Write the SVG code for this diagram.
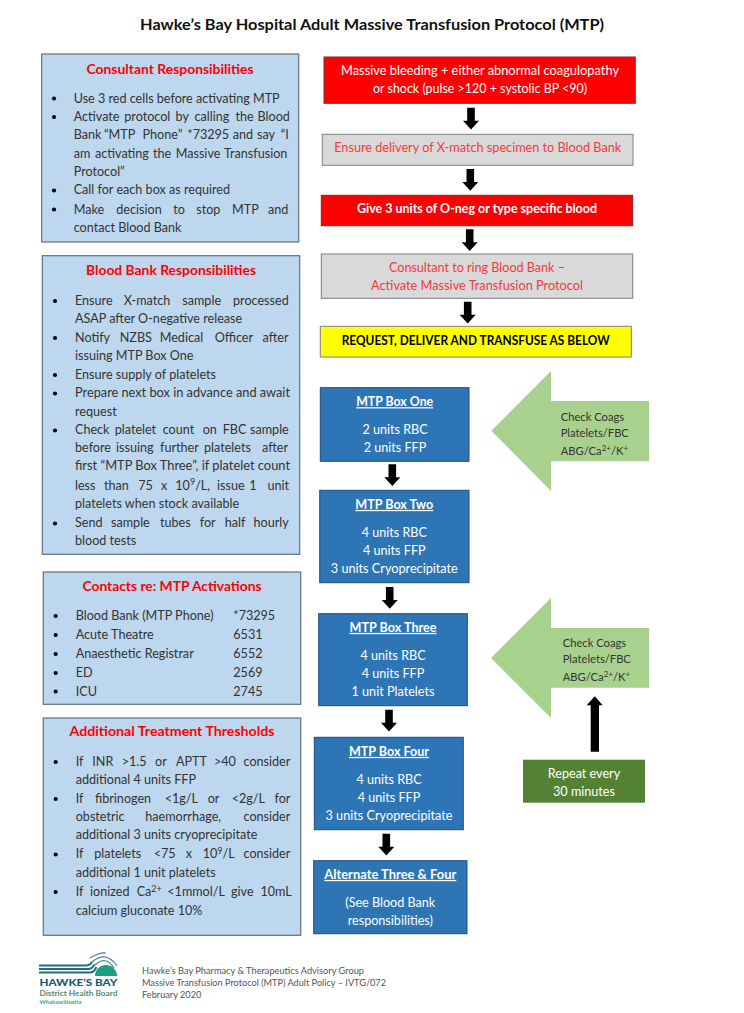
<svg xmlns="http://www.w3.org/2000/svg" width="744" height="1013" viewBox="0 0 744 1013">
<style>
text{font-family:"Lato","Carlito","Open Sans","Liberation Sans",sans-serif;font-size:12.6px;fill:#333}
.panel{fill:#BDD7EE;stroke:#5f7080;stroke-width:1.2}
.ph{font-weight:700;font-size:13.4px;fill:#f00;text-anchor:middle}
.red{fill:#f00;stroke:#7f2a2a;stroke-width:1}
.grey{fill:#D9D9D9;stroke:#7f7f7f;stroke-width:1}
.yel{fill:#ff0;stroke:#7f7f7f;stroke-width:1}
.blue{fill:#2E75B6;stroke:#1f4e79;stroke-width:1}
.c{text-anchor:middle}
.w{fill:#fff}
.rt{fill:#f23b3b}
.bh{fill:#fff;font-weight:700;text-anchor:middle;text-decoration:underline}
.g{fill:#A9D18E}
.s{font-size:9px}
.k{font-size:11.2px}
.k .s{font-size:8px}
.f{font-size:9.2px;fill:#555}
.b{fill:#000}
</style>
<defs>
<path id="dn" class="b" d="M-3.8 0H3.8V13H8L0 21.7L-8 13H-3.8Z"/>
</defs>
<text x="372" y="30" class="c" style="font-weight:700;font-size:15.6px;fill:#111" textLength="464" lengthAdjust="spacingAndGlyphs">Hawke’s Bay Hospital Adult Massive Transfusion Protocol (MTP)</text>

<g id="consultant">
<rect class="panel" x="41.7" y="54" width="257" height="188"/>
<text class="ph" x="170" y="73.6" textLength="167" lengthAdjust="spacingAndGlyphs">Consultant Responsibilities</text>
<g class="b"><circle cx="54" cy="98.5" r="2.1"/><circle cx="54" cy="117" r="2.1"/><circle cx="54" cy="190.5" r="2.1"/><circle cx="54" cy="209.5" r="2.1"/></g>
<text x="73.7" y="102.7" textLength="206" lengthAdjust="spacingAndGlyphs">Use 3 red cells before activating MTP</text>
<text y="121.3"><tspan x="73.7">Activate</tspan><tspan x="124.3">protocol</tspan><tspan x="175.5">by</tspan><tspan x="194.5">calling</tspan><tspan x="235.5">the</tspan><tspan x="257.5">Blood</tspan></text>
<text y="139.3"><tspan x="73.7">Bank</tspan><tspan x="104">“MTP</tspan><tspan x="142.5">Phone”</tspan><tspan x="187.3">*73295</tspan><tspan x="232.7">and</tspan><tspan x="257">say</tspan><tspan x="280.7">“I</tspan></text>
<text y="157.7"><tspan x="73.7">am</tspan><tspan x="95">activating</tspan><tspan x="153">the</tspan><tspan x="175.7">Massive</tspan><tspan x="224">Transfusion</tspan></text>
<text x="73.7" y="175.7">Protocol”</text>
<text x="73.7" y="194.3">Call for each box as required</text>
<text y="213.7"><tspan x="73.7">Make</tspan><tspan x="116.3">decision</tspan><tspan x="173.3">to</tspan><tspan x="196.3">stop</tspan><tspan x="232">MTP</tspan><tspan x="268">and</tspan></text>
<text x="73.7" y="231.7">contact Blood Bank</text>
</g>

<g id="bloodbank">
<rect class="panel" x="42.3" y="255.7" width="257.4" height="298.6"/>
<text class="ph" x="171" y="275.3" textLength="170" lengthAdjust="spacingAndGlyphs">Blood Bank Responsibilities</text>
<g class="b"><circle cx="55" cy="301" r="2.1"/><circle cx="55" cy="338" r="2.1"/><circle cx="55" cy="375" r="2.1"/><circle cx="55" cy="393.5" r="2.1"/><circle cx="55" cy="430.5" r="2.1"/><circle cx="55" cy="523.5" r="2.1"/></g>
<text y="305"><tspan x="75">Ensure</tspan><tspan x="123.7">X-match</tspan><tspan x="182.3">sample</tspan><tspan x="233">processed</tspan></text>
<text x="75" y="322.7">ASAP after O-negative release</text>
<text y="341.7"><tspan x="75">Notify</tspan><tspan x="119.7">NZBS</tspan><tspan x="159.7">Medical</tspan><tspan x="214.7">Officer</tspan><tspan x="262.5">after</tspan></text>
<text x="75" y="359.7">issuing MTP Box One</text>
<text x="75" y="378.7">Ensure supply of platelets</text>
<text x="75" y="397.3" textLength="215" lengthAdjust="spacingAndGlyphs">Prepare next box in advance and await</text>
<text x="75" y="415.7">request</text>
<text y="434.3"><tspan x="75">Check</tspan><tspan x="114.7">platelet</tspan><tspan x="162.7">count</tspan><tspan x="202.7">on</tspan><tspan x="222.7">FBC</tspan><tspan x="250">sample</tspan></text>
<text y="452.3"><tspan x="75">before</tspan><tspan x="116">issuing</tspan><tspan x="160">further</tspan><tspan x="204">platelets</tspan><tspan x="262">after</tspan></text>
<text x="75" y="470.3" textLength="215" lengthAdjust="spacingAndGlyphs">first “MTP Box Three”, if platelet count</text>
<text y="489.7"><tspan x="75">less</tspan><tspan x="104">than</tspan><tspan x="138.3">75</tspan><tspan x="161">x</tspan><tspan x="175.3">10</tspan><tspan class="s" dy="-4.5">9</tspan><tspan dy="4.5">/L,</tspan><tspan x="217">issue</tspan><tspan x="249.3">1</tspan><tspan x="267.5">unit</tspan></text>
<text x="75" y="508.3">platelets when stock available</text>
<text y="527.3"><tspan x="75">Send</tspan><tspan x="111">sample</tspan><tspan x="160">tubes</tspan><tspan x="199.7">for</tspan><tspan x="224.7">half</tspan><tspan x="253.5">hourly</tspan></text>
<text x="75" y="545.3">blood tests</text>
</g>

<g id="contacts">
<rect class="panel" x="43.3" y="572" width="257.4" height="132.3"/>
<text class="ph" x="172" y="591.3" textLength="179" lengthAdjust="spacingAndGlyphs">Contacts re: MTP Activations</text>
<g class="b"><circle cx="55.7" cy="616" r="2.1"/><circle cx="55.7" cy="635" r="2.1"/><circle cx="55.7" cy="654" r="2.1"/><circle cx="55.7" cy="673" r="2.1"/><circle cx="55.7" cy="691.5" r="2.1"/></g>
<text x="75.7" y="620">Blood Bank (MTP Phone)</text><text x="233.3" y="620">*73295</text>
<text x="75.7" y="639">Acute Theatre</text><text x="233.3" y="639">6531</text>
<text x="75.7" y="658">Anaesthetic Registrar</text><text x="233.3" y="658">6552</text>
<text x="75.7" y="676.7">ED</text><text x="233.3" y="676.7">2569</text>
<text x="75.7" y="695.7">ICU</text><text x="233.3" y="695.7">2745</text>
</g>

<g id="thresholds">
<rect class="panel" x="43.3" y="718" width="257.4" height="217.3"/>
<text class="ph" x="172" y="736.4" textLength="205" lengthAdjust="spacingAndGlyphs">Additional Treatment Thresholds</text>
<g class="b"><circle cx="55.7" cy="762" r="2.1"/><circle cx="55.7" cy="799" r="2.1"/><circle cx="55.7" cy="854.5" r="2.1"/><circle cx="55.7" cy="892" r="2.1"/></g>
<text y="766"><tspan x="75.7">If</tspan><tspan x="92.3">INR</tspan><tspan x="121.7">&gt;1.5</tspan><tspan x="155">or</tspan><tspan x="176">APTT</tspan><tspan x="214">&gt;40</tspan><tspan x="243.5">consider</tspan></text>
<text x="75.7" y="784.3">additional 4 units FFP</text>
<text y="803.3"><tspan x="75.7">If</tspan><tspan x="95">fibrinogen</tspan><tspan x="164.7">&lt;1g/L</tspan><tspan x="207.7">or</tspan><tspan x="231.7">&lt;2g/L</tspan><tspan x="274.5">for</tspan></text>
<text y="821"><tspan x="75.7">obstetric</tspan><tspan x="145.3">haemorrhage,</tspan><tspan x="243.5">consider</tspan></text>
<text x="75.7" y="839">additional 3 units cryoprecipitate</text>
<text y="858.3"><tspan x="75.7">If</tspan><tspan x="94.3">platelets</tspan><tspan x="153.7">&lt;75</tspan><tspan x="185.7">x</tspan><tspan x="202.7">10</tspan><tspan class="s" dy="-4.5">9</tspan><tspan dy="4.5">/L</tspan><tspan x="243.5">consider</tspan></text>
<text x="75.7" y="877">additional 1 unit platelets</text>
<text y="896.3"><tspan x="75.7">If</tspan><tspan x="90">ionized</tspan><tspan x="136.7">Ca</tspan><tspan class="s" dy="-4.5">2+</tspan><tspan x="167.3" dy="4.5">&lt;1mmol/L</tspan><tspan x="231">give</tspan><tspan x="260.5">10mL</tspan></text>
<text x="75.7" y="914.7">calcium gluconate 10%</text>
</g>

<g id="massive-bleeding">
<rect class="red" x="324" y="57" width="311.3" height="46.3"/>
<text class="c w" x="480" y="75" textLength="278" lengthAdjust="spacingAndGlyphs">Massive bleeding + either abnormal coagulopathy</text>
<text class="c w" x="480" y="92.7" textLength="214" lengthAdjust="spacingAndGlyphs">or shock (pulse &gt;120 + systolic BP &lt;90)</text>
</g>
<g id="xmatch">
<rect class="grey" x="322.3" y="134.3" width="310.7" height="31"/>
<text class="c rt" x="477.7" y="152.3" textLength="287" lengthAdjust="spacingAndGlyphs">Ensure delivery of X-match specimen to Blood Bank</text>
</g>
<g id="give-units">
<rect class="red" x="321.3" y="195.3" width="311.4" height="30.4"/>
<text class="c w" x="477" y="213.3" style="font-weight:700" textLength="240" lengthAdjust="spacingAndGlyphs">Give 3 units of O-neg or type specific blood</text>
</g>
<g id="ring-blood-bank">
<rect class="grey" x="321.3" y="254" width="311.4" height="44.3"/>
<text class="c rt" x="477" y="272" textLength="176" lengthAdjust="spacingAndGlyphs">Consultant to ring Blood Bank –</text>
<text class="c rt" x="477" y="290" textLength="212" lengthAdjust="spacingAndGlyphs">Activate Massive Transfusion Protocol</text>
</g>
<g id="request">
<rect class="yel" x="320.3" y="326.3" width="311" height="30.7"/>
<text class="c" x="475.7" y="344.6" style="font-weight:700;fill:#000" textLength="268" lengthAdjust="spacingAndGlyphs">REQUEST, DELIVER AND TRANSFUSE AS BELOW</text>
</g>

<g id="box-one">
<rect class="blue" x="320.3" y="387.7" width="148.7" height="73.6"/>
<text class="bh" x="394.7" y="406.2" textLength="77" lengthAdjust="spacingAndGlyphs">MTP Box One</text>
<text class="c w" x="395" y="434">2 units RBC</text>
<text class="c w" x="395" y="452">2 units FFP</text>
</g>
<g id="box-two">
<rect class="blue" x="319.7" y="490.3" width="149.3" height="92.4"/>
<text class="bh" x="394.3" y="508.9" textLength="78" lengthAdjust="spacingAndGlyphs">MTP Box Two</text>
<text class="c w" x="394.3" y="537">4 units RBC</text>
<text class="c w" x="394.3" y="555">4 units FFP</text>
<text class="c w" x="394.3" y="573" textLength="127" lengthAdjust="spacingAndGlyphs">3 units Cryoprecipitate</text>
</g>
<g id="box-three">
<rect class="blue" x="318.7" y="613.7" width="148.6" height="92"/>
<text class="bh" x="393" y="631.9" textLength="87" lengthAdjust="spacingAndGlyphs">MTP Box Three</text>
<text class="c w" x="393" y="659.7">4 units RBC</text>
<text class="c w" x="393" y="677.7">4 units FFP</text>
<text class="c w" x="393" y="696" textLength="83" lengthAdjust="spacingAndGlyphs">1 unit Platelets</text>
</g>
<g id="box-four">
<rect class="blue" x="314.3" y="737.3" width="149" height="92.4"/>
<text class="bh" x="389" y="755.9" textLength="80" lengthAdjust="spacingAndGlyphs">MTP Box Four</text>
<text class="c w" x="389" y="783.7">4 units RBC</text>
<text class="c w" x="389" y="801.7">4 units FFP</text>
<text class="c w" x="389" y="820" textLength="127" lengthAdjust="spacingAndGlyphs">3 units Cryoprecipitate</text>
</g>
<g id="alternate">
<rect class="blue" x="313.7" y="860.7" width="153.3" height="73"/>
<text class="bh" x="390.3" y="878.9" textLength="132" lengthAdjust="spacingAndGlyphs">Alternate Three &amp; Four</text>
<text class="c w" x="390.3" y="906.7">(See Blood Bank</text>
<text class="c w" x="390.3" y="924.7">responsibilities)</text>
</g>

<g id="check-one">
<polygon class="g" points="491.3,430.7 551,371 551,401 649,401 649,461.3 551,461.3 551,491"/>
<text class="k" x="560.7" y="420.7">Check Coags</text>
<text class="k" x="560.7" y="437.3">Platelets/FBC</text>
<text class="k" x="560.7" y="454.7">ABG/Ca<tspan class="s" dy="-4">2+</tspan><tspan dy="4">/K</tspan><tspan class="s" dy="-4">+</tspan></text>
</g>
<g id="check-two">
<polygon class="g" points="491,658 551,598 551,628 649,628 649,687.7 551,687.7 551,718"/>
<text class="k" x="562.7" y="647">Check Coags</text>
<text class="k" x="562.7" y="663.3">Platelets/FBC</text>
<text class="k" x="562.7" y="680.7">ABG/Ca<tspan class="s" dy="-4">2+</tspan><tspan dy="4">/K</tspan><tspan class="s" dy="-4">+</tspan></text>
</g>
<g id="repeat">
<rect x="523" y="759.7" width="122" height="43" fill="#548235"/>
<text class="c w" x="584" y="777.7">Repeat every</text>
<text class="c w" x="584" y="795.7">30 minutes</text>
</g>

<g id="connectors">
<use href="#dn" x="471" y="107.7"/>
<use href="#dn" x="470.3" y="169"/>
<use href="#dn" x="469.7" y="229.3"/>
<use href="#dn" x="467.7" y="301.7"/>
<use href="#dn" x="392.3" y="464.3"/>
<use href="#dn" x="389.7" y="587"/>
<use href="#dn" x="389" y="709.7"/>
<use href="#dn" x="386.3" y="833.7"/>
<path class="b" d="M590.7 751.7V705.3H586.7L594.7 696.3L602.7 705.3H599V751.7Z"/>
</g>

<g id="footer">
<text class="f" x="142" y="974" textLength="222" lengthAdjust="spacingAndGlyphs">Hawke’s Bay Pharmacy &amp; Therapeutics Advisory Group</text>
<text class="f" x="142" y="986.3" textLength="244" lengthAdjust="spacingAndGlyphs">Massive Transfusion Protocol (MTP) Adult Policy – IVTG/072</text>
<text class="f" x="142" y="998.3">February 2020</text>
</g>
<g id="logo">
<path d="M39 965.5H86Q90 965.5 92 962M39 969H88Q92 969 94.5 964.5M39 972.5H90Q94 972.5 96.5 967" fill="none" stroke="#1f6d7d" stroke-width="2"/>
<path d="M92 962Q106 950 117 966M95 965Q106 955 114 968M90 958Q100 952 106 953" fill="none" stroke="#3b8798" stroke-width="1.2"/>
<path d="M95 976A11 11 0 0 1 117 976Z" fill="#1f9d84"/>
<text x="39.5" y="986" textLength="78" lengthAdjust="spacingAndGlyphs" style="font-weight:900;font-size:10px;fill:#1c5a78">HAWKE’S BAY</text>
<text x="39.5" y="996" textLength="78" lengthAdjust="spacingAndGlyphs" style="font-weight:700;font-size:7.5px;fill:#4f8f6f">District Health Board</text>
<text x="39.5" y="1004" textLength="42" lengthAdjust="spacingAndGlyphs" style="font-weight:700;font-size:5.5px;fill:#35b08c">Whakawāteatia</text>
</g>
</svg>
